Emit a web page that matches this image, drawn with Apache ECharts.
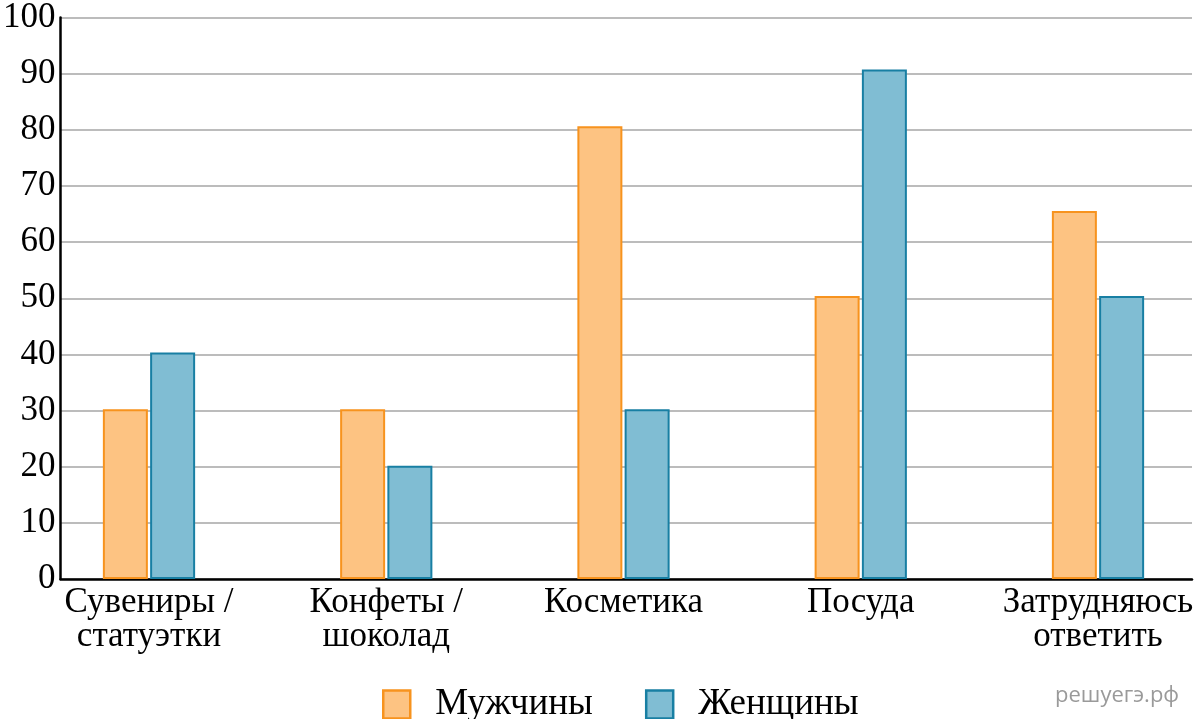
<!DOCTYPE html>
<html>
<head>
<meta charset="utf-8">
<script src="https://cdn.jsdelivr.net/npm/echarts@6/dist/echarts.min.js"></script>
<style>
html,body{margin:0;padding:0;background:#fff;}
#chart{width:1200px;height:719px;}
</style>
</head>
<body>
<div id="chart"></div>
<script>
const categories = ['Сувениры /\nстатуэтки', 'Конфеты /\nшоколад', 'Косметика', 'Посуда', 'Затрудняюсь\nответить'];
const seriesNames = ['Мужчины', 'Женщины'];
const men = [30, 30, 80, 50, 65];
const women = [40, 20, 30, 90, 50];
const yTicks = { min: 0, max: 100, interval: 10 };

const SERIF = "'Liberation Serif', 'Times New Roman', serif";
const chart = echarts.init(document.getElementById('chart'));
chart.setOption({
  backgroundColor: '#ffffff',
  animation: false,
  grid: [
    { left: 56, right: 8, top: 13, bottom: 140 },
    { left: 149, right: 102, top: 13, bottom: 140 }
  ],
  legend: {
    data: seriesNames,
    left: 382, top: 686,
    itemWidth: 27, itemHeight: 28, itemGap: 52,
    padding: 0,
    icon: 'rect',
    itemStyle: { borderWidth: 2.5 },
    textStyle: { fontFamily: SERIF, fontSize: 37, color: '#000', padding: [0, 0, 0, 20] }
  },
  xAxis: [
    {
      type: 'category', gridIndex: 0, data: categories,
      axisLine: { lineStyle: { color: '#000', width: 2.5 } },
      axisTick: { show: false }, axisLabel: { show: false }, splitLine: { show: false }
    },
    {
      type: 'category', gridIndex: 1, data: categories, boundaryGap: false,
      axisLine: { show: false }, axisTick: { show: false }, splitLine: { show: false },
      axisLabel: { fontFamily: SERIF, fontSize: 35, color: '#000', lineHeight: 34, margin: 7, interval: 0 }
    }
  ],
  yAxis: [
    {
      type: 'value', gridIndex: 0, min: yTicks.min, max: yTicks.max, interval: yTicks.interval,
      axisLine: { show: true, lineStyle: { color: '#000', width: 2.5 } },
      axisTick: { show: false },
      axisLabel: { fontFamily: SERIF, fontSize: 35, color: '#000', margin: 5 },
      splitLine: { lineStyle: { color: '#a6a6a6', width: 1.5 } }
    },
    {
      type: 'value', gridIndex: 1, min: yTicks.min, max: yTicks.max, interval: yTicks.interval,
      show: false, splitLine: { show: false }
    }
  ],
  series: [
    {
      name: seriesNames[0], type: 'bar', xAxisIndex: 1, yAxisIndex: 1, data: men,
      barWidth: 45, barGap: '5%',
      itemStyle: { color: '#fdc382', borderColor: '#f7931e', borderWidth: 2 }
    },
    {
      name: seriesNames[1], type: 'bar', xAxisIndex: 1, yAxisIndex: 1, data: women,
      barWidth: 45, barGap: '5%',
      itemStyle: { color: '#80bdd3', borderColor: '#187fa3', borderWidth: 2 }
    }
  ],
  graphic: [
    {
      type: 'text', left: 1055, top: 685,
      style: { text: 'решуегэ.рф', fontFamily: "'Open Sans', 'DejaVu Sans', sans-serif", fontSize: 22, fill: '#9a9a9a' }
    }
  ]
});
</script>
</body>
</html>
